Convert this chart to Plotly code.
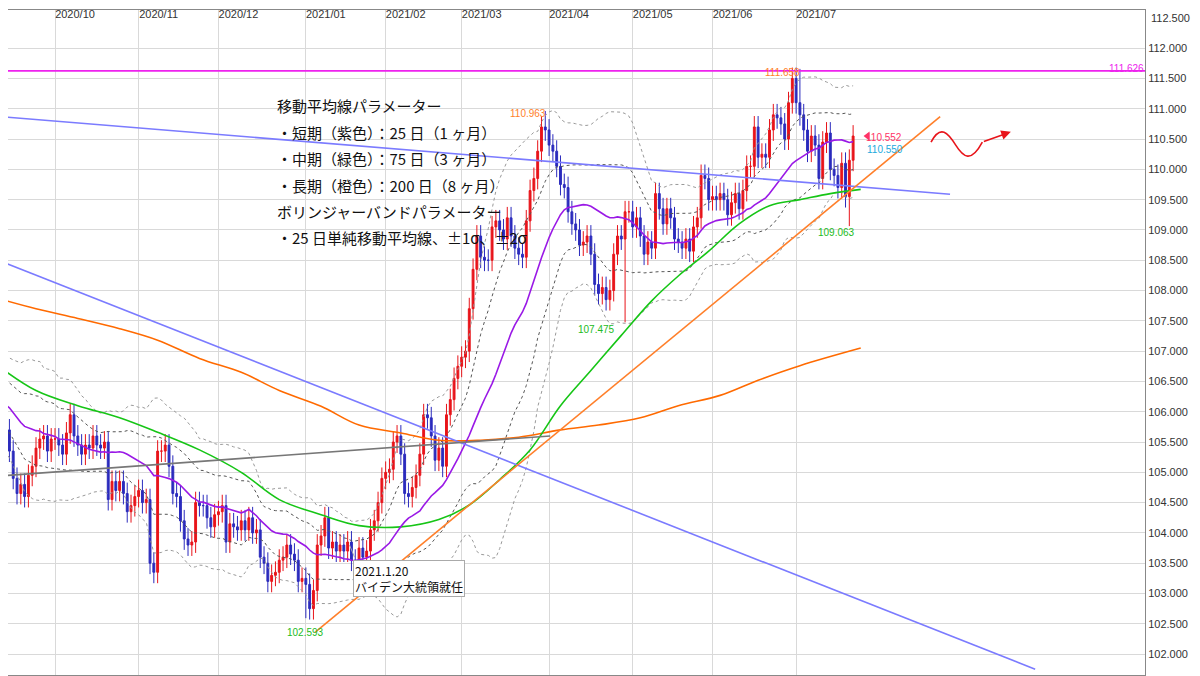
import numpy as np
import pandas as pd
import plotly.graph_objects as go

# ---------------- data ----------------
pre_closes = [105.6,105.9,106.0,106.5,106.9,106.9,106.6,106.2,105.4,105.8,106.0,105.7,106.6,
              105.9,105.8,106.0,106.5,105.4,105.9,106.0,106.4,106.2,106.25,106.0,106.15]
closes = [
 # Sep 10-30 2020
 106.05,105.9,105.7,105.35,104.9, 104.65,104.8,104.6,104.95,105.1, 105.4,105.55,105.6,105.35,105.55,
 # Oct
 105.55,105.45,105.3,105.65,105.95,105.6,105.45,105.3,105.45,105.4,105.6,105.45,105.4,105.5,
 104.55,104.85,104.7,104.85,104.65,104.35,104.45,104.6,
 # Nov
 104.7,104.5,104.55,103.5,103.35, 105.35,105.35,105.45,105.1,104.65, 104.6,104.2,103.9,103.8,103.85,
 104.5,104.45,104.45,104.25,104.1, 104.3,
 # Dec
 104.35,104.45,103.85,104.15,104.1,104.05,104.2,104.05,104.25,104.0,104.05,103.6,103.5,103.2,103.3,
 103.35,103.55,103.6,103.8,103.65,103.55,103.2,103.25,
 # Jan 2021
 103.15,102.75,103.05,103.8,103.95, 104.25,103.75,103.85,103.7,103.8, 103.7,103.85,103.55,103.5,103.75,
 103.6,103.7,104.05,104.2,104.5,
 # Feb
 104.9,105.0,105.05,105.5,105.6, 105.3,104.65,104.6,104.75,104.95, 105.3,105.95,105.9,105.6,105.2,
 105.4,105.1,105.95,106.2,106.55,
 # Mar
 106.75,106.9,107.0,107.7,108.35, 108.9,108.55,108.5,108.5,109.05, 109.15,109.0,108.85,109.2,108.9,
 108.7,108.6,108.55,109.15,109.65, 109.85,110.3,110.7,
 # Apr
 110.65,110.4,110.3,110.05,109.75, 109.7,109.3,109.1,109.0,108.75, 108.8,108.9,108.6,108.1,107.95,
 108.05,107.85,108.0,108.6,108.9, 108.85,109.3,
 # May
 109.3,109.05,109.2,108.9,108.6, 108.8,108.7,109.6,109.35,109.1, 109.35,109.2,108.85,108.8,108.7,
 108.85,108.65,109.05,109.2,109.9, 109.85,
 # Jun
 109.5,109.55,109.5,109.6,109.5, 109.25,109.45,109.6,109.35,109.65, 110.05,110.05,110.7,110.2,110.25,
 110.2,110.65,110.9,110.85,110.75, 110.5,111.1,
 # Jul 1-23
 111.5,111.1,110.9,110.65,110.3, 110.55,110.4,109.85,110.45,110.6, 110.0,109.9,109.7,110.1,109.55,
 110.15,110.55,
]
wick = 0.18
extreme_lows = {81: 102.593, 165: 107.475, 224: 109.063}
extreme_highs = {144: 110.963, 211: 111.658}

ma75_idx = [0,10,21,32,42,53,64,74,85,95,106,116,124,132,140,148,156,164,172,179,187,195,203,211,219,227]
ma75_val = [106.76,106.35,106.1,105.9,105.66,105.37,105.0,104.55,104.3,104.12,104.1,104.22,104.46,104.88,
            105.37,106.1,106.68,107.26,107.83,108.24,108.65,109.1,109.4,109.5,109.6,109.67]
ma200_idx = [0,10,21,32,42,53,64,74,85,95,106,116,127,137,148,158,169,179,190,200,211,227]
ma200_val = [107.87,107.7,107.54,107.37,107.18,106.88,106.65,106.35,106.09,105.78,105.65,105.53,105.53,
             105.58,105.7,105.78,105.9,106.1,106.27,106.52,106.76,107.05]

months = ["2020/10","2020/11","2020/12","2021/01","2021/02","2021/03","2021/04","2021/05","2021/06","2021/07"]
month_idx = [15,37,58,81,102,122,145,167,188,210]

# ---------------- build ----------------
c = np.array(closes)
allc = np.array(pre_closes + closes)
opens = np.concatenate([[pre_closes[-1]], c[:-1]])
highs = np.maximum(opens, c) + wick
lows = np.minimum(opens, c) - wick
for k, v in extreme_lows.items(): lows[k] = v
for k, v in extreme_highs.items(): highs[k] = v
idx = np.arange(len(c))

s = pd.Series(allc)
ma25 = s.rolling(25).mean().values[len(pre_closes):]
sd25 = s.rolling(25).std(ddof=0).values[len(pre_closes):]

fig = go.Figure()
for k in [2, 1, -1, -2]:
    fig.add_trace(go.Scatter(x=idx, y=ma25 + k * sd25, mode="lines",
                             line=dict(color="#999999" if abs(k) == 2 else "#555555", width=1, dash="dot"),
                             hoverinfo="skip", showlegend=False))
fig.add_trace(go.Scatter(x=ma200_idx, y=ma200_val, mode="lines", line=dict(color="#ff6a00", width=1.6, shape="spline"), showlegend=False))
fig.add_trace(go.Scatter(x=ma75_idx, y=ma75_val, mode="lines", line=dict(color="#16c516", width=1.6, shape="spline"), showlegend=False))
fig.add_trace(go.Scatter(x=idx, y=ma25, mode="lines", line=dict(color="#9a19e6", width=1.6), showlegend=False))

fig.add_trace(go.Candlestick(x=idx, open=opens, high=highs, low=lows, close=c,
                             increasing=dict(line=dict(color="#e8141a", width=1), fillcolor="#e8141a"),
                             decreasing=dict(line=dict(color="#2b2bbd", width=1), fillcolor="#2b2bbd"),
                             whiskerwidth=0, showlegend=False))

lines = [((0.5, 110.87), (250.5, 109.59), "#7b7bff"),
         ((0.5, 108.49), (272.9, 101.75), "#7b7bff"),
         ((0.5, 104.94), (145.3, 105.60), "#777777"),
         ((83.4, 102.36), (247.9, 110.87), "#ff7f2a")]
for (x0, y0), (x1, y1), col in lines:
    fig.add_shape(type="line", x0=x0, y0=y0, x1=x1, y1=y1, line=dict(color=col, width=1.6))
fig.add_shape(type="line", xref="paper", x0=0, x1=1, y0=111.626, y1=111.626, line=dict(color="#ee22ee", width=1.6))

fig.add_shape(type="path", path="M 245.5,110.45 C 248,110.75 250,110.6 252,110.4 S 256,110.1 259,110.45",
              line=dict(color="#e8141a", width=1.6))
fig.add_annotation(x=266.5, y=110.62, ax=259, ay=110.45, axref="x", ayref="y", showarrow=True,
                   arrowhead=2, arrowsize=1.2, arrowwidth=1.6, arrowcolor="#e8141a", text="")

lab = dict(size=10, family="Liberation Sans")
for x, y, t, col in [(139.5, 110.93, "110.963", "#ff7f2a"), (206.5, 111.6, "111.658", "#ff7f2a"),
                     (81, 102.35, "102.593", "#22bb22"), (157.5, 107.36, "107.475", "#22bb22"),
                     (220.5, 108.96, "109.063", "#22bb22"), (233, 110.52, "110.552", "#ff3366"),
                     (233.3, 110.33, "110.550", "#22aadd"), (297, 111.67, "111.626", "#ee22ee")]:
    fig.add_annotation(x=x, y=y, text=t, showarrow=False, font=dict(color=col, **lab))
fig.add_trace(go.Scatter(x=[228.8], y=[110.55], mode="markers",
                         marker=dict(symbol="triangle-left", color="#ff3366", size=8), showlegend=False))
fig.add_annotation(xref="paper", x=1.0, xanchor="left", xshift=4, y=112.5, text="112.500", showarrow=False,
                   font=dict(size=11, color="#333333", family="Liberation Sans"))

PW, PH = 1137, 668
txt = ["移動平均線パラメーター", "・短期（紫色）：25 日（1 ヶ月）", "・中期（緑色）：75 日（3 ヶ月）",
       "・長期（橙色）：200 日（8 ヶ月）", "ボリンジャーバンドパラメーター", "・25 日単純移動平均線、±1σ、±2σ"]
for k, t in enumerate(txt):
    fig.add_annotation(xref="paper", yref="paper", x=(275 - 8) / PW, y=1 - (104 - 8 + 26.6 * k) / PH,
                       text=t, showarrow=False, xanchor="left", yanchor="middle",
                       font=dict(size=15, color="#111111", family="Noto Sans CJK JP"))

fig.add_annotation(x=93.5, y=103.25, showarrow=False,
                   text="2021.1.20<br>バイデン大統領就任", align="left", xanchor="left",
                   bordercolor="#aaaaaa", borderwidth=1, bgcolor="white",
                   font=dict(size=12, color="#111111", family="Noto Sans CJK JP"))
fig.add_shape(type="line", x0=93.8, y0=103.6, x1=92.5, y1=103.8, line=dict(color="#aaaaaa", width=1))

fig.update_layout(
    width=1192, height=668, margin=dict(l=0, r=55, t=0, b=0),
    paper_bgcolor="white", plot_bgcolor="white",
    xaxis=dict(range=[2.63, 301.8], tickvals=month_idx, ticktext=months, side="top",
               ticklabelposition="inside", ticklabelshift=20, showgrid=True, gridcolor="#d9d9d9",
               zeroline=False, rangeslider=dict(visible=False), tickfont=dict(size=11, color="#333333"),
               showline=True, linecolor="#888888", mirror=True, ticks=""),
    yaxis=dict(range=[101.655, 112.63], side="right", dtick=0.5, tickformat=".3f", showgrid=True,
               gridcolor="#d9d9d9", zeroline=False, tickfont=dict(size=11, color="#333333"),
               showline=True, linecolor="#888888", ticks=""),
    font=dict(family="Liberation Sans"),
)
fig.write_html("out.html")
